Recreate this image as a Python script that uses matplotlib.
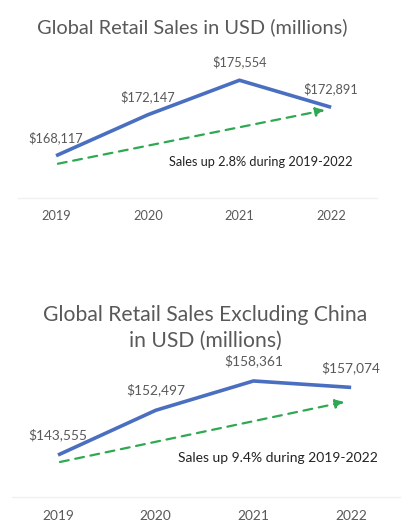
import numpy as np
import matplotlib
matplotlib.use("Agg")
from matplotlib import pyplot as plt

plt.rcParams['font.family'] = ['Lato', 'DejaVu Sans']

years = ["2019", "2020", "2021", "2022"]
sales_global = [168117, 172147, 175554, 172891]
sales_ex_china = [143555, 152497, 158361, 157074]
note_global = "Sales up 2.8% during 2019-2022"
note_ex_china = "Sales up 9.4% during 2019-2022"
title_global = "Global Retail Sales in USD (millions)"
title_ex_china = "Global Retail Sales Excluding China\nin USD (millions)"

W, H = 408, 532
BLUE = "#4a6fc0"
GREEN = "#2fa852"
GREY = "#595959"


def px_axes(fig, left, top, right, bottom):
    # pixel box -> figure fraction
    return fig.add_axes([left / W, 1 - bottom / H, (right - left) / W, (bottom - top) / H])


def draw(ax, values, xlim, ylim, note, note_xy, label_off, arrow_dy, fs, note_fs):
    x = np.arange(len(values))
    ax.plot(x, values, color=BLUE, lw=2.6, solid_capstyle='butt', solid_joinstyle='miter')
    for xi, v in zip(x, values):
        ax.annotate(f"${v:,}", (xi, v), xytext=(0, label_off), textcoords='offset points',
                    ha='center', va='center', fontsize=fs, color=GREY)
    # trend arrow from first to last value, drawn a little below the line
    y0 = values[0] - arrow_dy[0]
    y1 = values[-1] - arrow_dy[1]
    ax.annotate("", xy=(2.93, y1), xytext=(0.02, y0),
                arrowprops=dict(arrowstyle='-|>', color=GREEN, lw=1.6, ls=(0, (4, 3)),
                                mutation_scale=13, shrinkA=0, shrinkB=0))
    ax.text(note_xy[0], note_xy[1], note, transform=ax.transAxes, ha='center', va='center',
            fontsize=note_fs, color="#222222")
    ax.set_xlim(*xlim)
    ax.set_ylim(*ylim)
    ax.set_yticks([])
    ax.set_xticks(x)
    ax.set_xticklabels(years, fontsize=fs, color=GREY)
    ax.tick_params(axis='x', length=0, pad=9)
    for s in ['top', 'left', 'right']:
        ax.spines[s].set_visible(False)
    ax.spines['bottom'].set_color("#f0f0f0")
    ax.spines['bottom'].set_linewidth(1.0)
    ax.patch.set_alpha(0)


fig = plt.figure(figsize=(W / 100, H / 100), dpi=100)
fig.patch.set_facecolor('white')

ax1 = px_axes(fig, 18, 60, 377, 198)
draw(ax1, sales_global, (-0.415, 3.5), (163950, 177550), note_global,
     ((261 - 18) / 359, (198 - 162) / 138), 13, (790, 280), 9.2, 9.2)
fig.text(192 / W, 1 - 27 / H, title_global, ha='center', va='center', fontsize=14.4, color=GREY)

ax2 = px_axes(fig, 12, 360, 400, 497)
draw(ax2, sales_ex_china, (-0.471, 3.5), (135155, 162555), note_ex_china,
     ((278 - 12) / 388, (497 - 458) / 137), 14.5, (1400, 2920), 9.9, 10.0)
fig.text(205 / W, 1 - 328 / H, title_ex_china, ha='center', va='center', fontsize=15.2,
         color=GREY, linespacing=1.38)

fig.savefig("out.png", dpi=100)
